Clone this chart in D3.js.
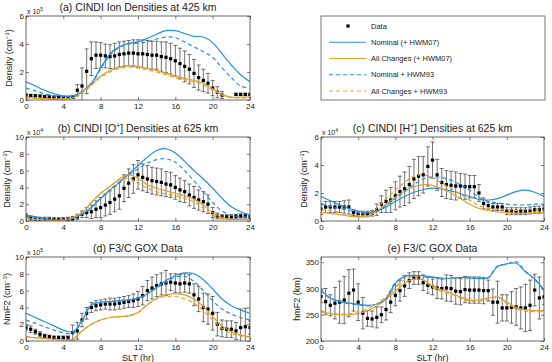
<!DOCTYPE html>
<html>
<head>
<meta charset="utf-8">
<script src="https://cdn.jsdelivr.net/npm/d3@7"></script>
<style>
body { margin: 0; background: #fff; }
svg text { font-family: "Liberation Sans", Arial, sans-serif; fill: #222; }
</style>
</head>
<body>
<svg id="fig" width="552" height="362"></svg>
<script>
// observation times (half-hourly SLT) and model times (hourly SLT)
var obsHours = [0,0.5,1,1.5,2,2.5,3,3.5,4,4.5,5,5.5,6,6.5,7,7.5,8,8.5,9,9.5,10,10.5,11,11.5,12,
                12.5,13,13.5,14,14.5,15,15.5,16,16.5,17,17.5,18,18.5,19,19.5,20,20.5,21,21.5,22,22.5,23,23.5,24]
var modelHours = [0,1,2,3,4,5,6,7,8,9,10,11,12,13,14,15,16,17,18,19,20,21,22,23,24]
var hourTicks = [0,4,8,12,16,20,24]

var seriesNames = ['Data', 'Nominal (+ HWM07)', 'All Changes (+ HWM07)', 'Nominal + HWM93', 'All Changes + HWM93']

// (a) CINDI ion density at 425 km, x 1e5 cm^-3
var aObs = [0.35,0.32,0.3,0.28,0.25,0.22,0.2,0.2,0.18,0.18,0.2,0.7,1.0,2.05,2.95,3.2,3.2,3.15,3.1,3.15,3.25,3.3,3.35,3.35,3.3,
            3.3,3.25,3.2,3.2,3.1,3.05,2.95,2.8,2.6,2.4,2.2,1.9,1.6,1.4,1.2,0.85,0.55,0.35,null,null,0.4,0.4,0.4,0.4]
var aErr = [0.08,0.08,0.08,0.08,0.08,0.08,0.08,0.08,0.08,0.08,0.1,0.4,1.3,1.6,1.2,0.95,0.9,0.85,0.85,0.9,0.9,0.9,0.9,0.95,1.0,
            1.0,1.0,1.0,1.0,1.05,1.1,1.1,1.1,1.1,1.1,1.05,1.0,0.9,0.8,0.7,0.55,0.4,0.25,null,null,0.08,0.08,0.08,0.08]
var aNom07 = [1.3,1.0,0.7,0.45,0.3,0.3,0.6,1.2,2.3,3.3,3.8,4.05,4.15,4.4,4.7,4.95,4.95,4.75,4.55,4.5,4.1,3.3,2.5,1.8,1.3]
var aAll07 = [0.2,0.15,0.1,0.08,0.1,0.15,0.55,1.1,1.7,2.1,2.35,2.45,2.4,2.25,2.1,1.9,1.7,1.55,1.4,1.2,0.8,0.4,0.2,0.2,0.2]
var aNom93 = [0.85,0.65,0.45,0.3,0.25,0.25,0.5,1.1,2.2,3.2,3.75,4.0,4.05,4.15,4.35,4.5,4.45,4.15,3.8,3.45,3.05,2.3,1.6,1.0,0.85]
var aAll93 = [0.15,0.12,0.08,0.06,0.08,0.12,0.5,1.05,1.65,2.0,2.25,2.35,2.3,2.15,2.0,1.8,1.6,1.45,1.3,1.1,0.7,0.35,0.18,0.15,0.15]

// (b) CINDI O+ density at 625 km, x 1e4 cm^-3
var bObs = [0.6,0.35,0.25,0.2,0.2,0.2,0.15,0.15,0.15,0.2,0.3,0.5,0.8,1.0,1.1,1.4,1.6,1.9,2.2,2.6,3.0,3.9,4.5,5.0,5.5,
            5.2,5.0,4.8,4.7,4.6,4.4,4.3,4.0,3.7,3.5,3.1,2.8,2.5,2.3,2.0,1.0,0.6,0.5,0.5,0.5,0.55,0.6,0.6,0.5]
var bErr = [0.25,0.25,0.25,0.25,0.25,0.25,0.25,0.25,0.25,0.25,0.25,0.3,0.4,0.6,0.8,1.0,1.2,1.3,1.4,1.5,1.6,1.6,1.7,1.7,1.7,
            1.6,1.6,1.6,1.6,1.6,1.5,1.5,1.4,1.4,1.3,1.3,1.3,1.2,1.2,1.1,0.6,0.35,0.25,0.25,0.25,0.25,0.25,0.25,0.25]
var bNom07 = [0.7,0.5,0.3,0.15,0.1,0.3,0.8,1.6,2.7,3.7,4.6,5.6,6.6,7.6,8.4,8.6,8.1,7.1,6.0,5.0,3.9,2.7,1.7,1.1,0.7]
var bAll07 = [0.3,0.2,0.1,0.05,0.1,0.4,1.0,2.2,3.3,4.1,5.0,5.5,5.1,4.3,3.9,3.6,3.3,3.0,2.6,1.9,1.0,0.4,0.2,0.2,0.2]
var bNom93 = [0.5,0.4,0.25,0.12,0.1,0.3,0.8,1.6,2.7,3.7,4.6,5.5,6.2,6.9,7.3,7.4,7.0,6.0,4.8,3.5,2.2,1.2,0.7,0.5,0.5]
var bAll93 = [0.25,0.18,0.1,0.05,0.1,0.4,1.0,2.2,3.3,4.1,4.9,5.1,4.5,3.9,3.5,3.2,3.0,2.7,2.3,1.5,0.7,0.3,0.2,0.2,0.2]

// (c) CINDI H+ density at 625 km, x 1e4 cm^-3
var cObs = [0.85,1.0,1.0,1.0,1.0,1.0,1.0,0.6,0.5,0.5,0.5,0.55,0.8,1.2,1.4,1.5,1.8,2.1,2.3,2.6,3.0,3.2,3.3,3.9,4.35,
            3.3,2.75,2.6,2.55,2.5,2.5,2.45,2.45,2.45,2.0,1.25,1.1,1.0,1.0,1.0,0.7,0.7,0.7,0.7,0.7,0.75,0.8,0.8,0.85]
var cErr = [0.4,0.4,0.4,0.4,0.4,0.45,0.5,0.2,0.2,0.2,0.2,0.2,0.4,0.6,0.8,0.9,1.0,1.1,1.2,1.3,1.4,1.4,1.3,1.4,1.3,
            1.1,1.0,1.0,1.0,1.0,0.9,0.9,0.8,0.8,0.6,0.4,0.25,0.25,0.25,0.25,0.25,0.25,0.25,0.25,0.25,0.25,0.25,0.25,0.25]
var cNom07 = [1.75,1.45,1.15,0.9,0.7,0.6,0.7,1.0,1.4,1.75,2.05,2.25,2.35,2.3,2.15,1.95,1.75,1.55,1.5,1.6,1.85,2.1,2.2,2.05,1.75]
var cAll07 = [0.6,0.55,0.45,0.35,0.3,0.35,0.7,1.2,1.7,2.15,2.45,2.6,2.55,2.3,2.0,1.6,1.2,0.9,0.75,0.65,0.6,0.55,0.55,0.6,0.6]
var cNom93 = [1.2,1.05,0.9,0.75,0.6,0.55,0.7,1.1,1.6,2.1,2.6,3.0,3.15,3.1,2.9,2.6,2.2,1.7,1.4,1.3,1.2,1.15,1.15,1.2,1.2]
var cAll93 = [0.8,0.75,0.6,0.45,0.4,0.45,0.9,1.6,2.2,2.75,3.2,3.3,3.1,2.7,2.3,1.9,1.5,1.1,0.9,0.85,0.8,0.75,0.8,0.8,0.8]

// (d) F3/C GOX NmF2, x 1e5 cm^-3
var dObs = [1.6,1.4,1.1,0.8,0.6,0.5,0.4,0.4,0.4,0.4,1.0,1.2,2.5,3.3,4.0,4.2,4.3,4.4,4.4,4.4,4.5,4.6,4.7,4.8,5.0,
            5.4,6.0,6.3,6.6,6.8,6.9,7.0,6.9,6.8,6.9,6.8,5.5,5.0,4.0,3.8,3.3,2.0,1.5,1.4,1.4,1.2,1.6,1.7,1.6]
var dErr = [0.3,0.4,0.3,0.3,0.2,0.2,0.2,0.2,0.2,0.2,0.9,1.0,0.8,0.7,0.6,0.6,0.6,0.6,0.7,0.7,0.7,0.7,0.7,0.8,0.9,
            1.1,1.2,1.3,1.3,1.3,1.5,1.0,1.1,1.1,1.1,1.1,1.3,1.5,1.7,1.8,2.0,1.4,1.0,1.0,1.0,1.0,2.2,2.2,0.8]
var dNom07 = [3.3,2.8,2.3,1.8,1.3,1.1,2.4,4.3,4.6,4.7,4.8,4.9,5.1,5.6,6.4,7.2,7.8,8.1,8.0,7.3,6.2,5.0,4.2,3.7,3.3]
var dAll07 = [0.5,0.4,0.3,0.2,0.15,0.2,1.2,2.0,2.5,2.8,2.9,3.0,3.4,4.3,5.1,5.5,5.65,5.5,5.0,4.1,2.9,1.8,1.1,0.7,0.5]
var dNom93 = [2.5,2.1,1.7,1.3,1.0,0.9,2.4,4.3,4.6,4.7,4.8,4.9,5.1,5.6,6.3,7.0,7.6,7.7,7.1,6.0,4.8,3.8,3.2,2.8,2.5]
var dAll93 = [0.5,0.4,0.3,0.2,0.15,0.2,1.2,2.0,2.5,2.8,2.9,3.0,3.4,4.3,5.0,5.3,5.3,5.0,4.5,3.6,2.5,1.5,0.9,0.6,0.5]

// (e) F3/C GOX hmF2, km
var eObs = [285,275,268,272,274,278,291,297,274,253,243,242,245,250,260,274,287,296,305,315,320,320,311,306,303,
            301,300,301,300,295,294,298,297,297,297,296,296,274,274,263,263,264,265,263,263,268,297,282,284]
var eErr = [12,25,20,30,40,45,45,40,35,30,15,15,20,15,20,20,20,20,20,15,12,12,15,15,15,
            20,20,25,25,25,25,25,25,25,25,25,20,25,40,25,25,30,35,40,45,48,30,40,15]
var eNom07 = [297,282,276,272,270,268,270,280,310,323,325,324,322,318,320,321,320,319,320,342,347,348,332,318,297]
var eAll07 = [258,252,250,250,252,258,266,280,295,310,318,316,305,297,292,284,278,278,282,284,274,264,259,258,258]
var eNom93 = [296,281,275,271,269,267,270,281,311,322,324,323,321,319,320,321,321,320,321,343,346,351,333,317,296]
var eAll93 = [256,252,251,252,256,262,271,285,302,316,323,316,303,294,289,282,276,276,280,283,272,262,257,256,256]

var blue = '#2a8fd8', orange = '#dfa02e'
var svg = d3.select('#fig')

function drawPanel(p) {
    var x = d3.scaleLinear().domain([0, 24]).range([p.left, p.right])
    var y = d3.scaleLinear().domain(p.domain).range([p.bottom, p.top])
    var g = svg.append('g')
    var clipId = 'clip' + p.key
    g.append('clipPath').attr('id', clipId)
        .append('rect')
        .attr('x', p.left).attr('y', p.top)
        .attr('width', p.right - p.left).attr('height', p.bottom - p.top)

    // axes (MATLAB style: ticks inside, on all four sides)
    var axisStyle = function(sel) {
        sel.select('.domain').remove()
        sel.selectAll('line').attr('stroke', '#444').attr('stroke-width', 0.7)
        sel.selectAll('text').attr('font-size', 8).attr('fill', '#333')
    }
    var fmt = d3.format('d')
    g.append('g').attr('transform', 'translate(0,' + p.bottom + ')')
        .call(d3.axisBottom(x).tickValues(hourTicks).tickFormat(fmt).tickSize(-3).tickPadding(3)).call(axisStyle)
    g.append('g').attr('transform', 'translate(0,' + p.top + ')')
        .call(d3.axisTop(x).tickValues(hourTicks).tickSize(-3).tickFormat('')).call(axisStyle)
    g.append('g').attr('transform', 'translate(' + p.left + ',0)')
        .call(d3.axisLeft(y).tickValues(p.ticks).tickFormat(fmt).tickSize(-3).tickPadding(2)).call(axisStyle)
    g.append('g').attr('transform', 'translate(' + p.right + ',0)')
        .call(d3.axisRight(y).tickValues(p.ticks).tickSize(-3).tickFormat('')).call(axisStyle)

    var plot = g.append('g').attr('clip-path', 'url(#' + clipId + ')')

    // observations with error bars
    var obs = obsHours.map(function(t, i) { return { t: t, v: p.obs[i], e: p.err[i] } })
        .filter(function(d) { return d.v != null })
    var bars = plot.selectAll('g.bar').data(obs).enter().append('g').attr('class', 'bar')
        .attr('stroke', '#333').attr('stroke-width', 0.7)
    bars.append('line')
        .attr('x1', function(d) { return x(d.t) }).attr('x2', function(d) { return x(d.t) })
        .attr('y1', function(d) { return y(d.v - d.e) }).attr('y2', function(d) { return y(d.v + d.e) })
    bars.append('line')
        .attr('x1', function(d) { return x(d.t) - 2 }).attr('x2', function(d) { return x(d.t) + 2 })
        .attr('y1', function(d) { return y(d.v - d.e) }).attr('y2', function(d) { return y(d.v - d.e) })
    bars.append('line')
        .attr('x1', function(d) { return x(d.t) - 2 }).attr('x2', function(d) { return x(d.t) + 2 })
        .attr('y1', function(d) { return y(d.v + d.e) }).attr('y2', function(d) { return y(d.v + d.e) })
    plot.selectAll('rect.obs').data(obs).enter().append('rect').attr('class', 'obs')
        .attr('x', function(d) { return x(d.t) - 1.6 }).attr('y', function(d) { return y(d.v) - 1.6 })
        .attr('width', 3.2).attr('height', 3.2).attr('fill', '#000')

    // model curves
    var line = d3.line()
        .x(function(d) { return x(d[0]) }).y(function(d) { return y(d[1]) })
        .curve(d3.curveCatmullRom.alpha(0.5))
    var models = [
        { v: p.nom07, c: blue, dash: null },
        { v: p.all07, c: orange, dash: null },
        { v: p.nom93, c: blue, dash: '4,3' },
        { v: p.all93, c: orange, dash: '4,3' }
    ]
    models.forEach(function(m) {
        plot.append('path')
            .datum(modelHours.map(function(t, i) { return [t, m.v[i]] }))
            .attr('d', line).attr('fill', 'none')
            .attr('stroke', m.c).attr('stroke-width', 1.2)
            .attr('stroke-dasharray', m.dash)
    })

    // frame
    g.append('rect').attr('x', p.left).attr('y', p.top)
        .attr('width', p.right - p.left).attr('height', p.bottom - p.top)
        .attr('fill', 'none').attr('stroke', '#444').attr('stroke-width', 0.8)

    // title
    var title = g.append('text').attr('x', (p.left + p.right) / 2).attr('y', p.top - 5)
        .attr('text-anchor', 'middle').attr('font-size', 10.5)
    title.text(p.title[0])
    if (p.title.length > 1) {
        title.append('tspan').attr('font-size', 7).attr('dy', -4).text(p.title[1])
        title.append('tspan').attr('dy', 4).text(p.title[2])
    }

    // exponent label
    if (p.exp) {
        var ex = g.append('text').attr('x', p.left + 1).attr('y', p.top - 2).attr('font-size', 7).attr('fill', '#333')
        ex.text('x 10')
        ex.append('tspan').attr('font-size', 5).attr('dy', -3).text(p.exp)
    }

    // y label
    var yl = g.append('text')
        .attr('transform', 'translate(' + (p.left - p.ylabelGap) + ',' + ((p.top + p.bottom) / 2) + ') rotate(-90)')
        .attr('text-anchor', 'middle').attr('font-size', 9)
    yl.text(p.ylabel[0])
    if (p.ylabel.length > 1) {
        yl.append('tspan').attr('font-size', 6).attr('dy', -3).text(p.ylabel[1])
        yl.append('tspan').attr('dy', 3).text(p.ylabel[2])
    }

    if (p.xlabel) {
        g.append('text').attr('x', (p.left + p.right) / 2).attr('y', p.bottom + 20)
            .attr('text-anchor', 'middle').attr('font-size', 9).text(p.xlabel)
    }
}

var densLabel = ['Density (cm', '\u22123', ')']
drawPanel({ key: 'a', left: 26, right: 250, top: 16, bottom: 100, domain: [0, 6], ticks: [0, 2, 4, 6],
    obs: aObs, err: aErr, nom07: aNom07, all07: aAll07, nom93: aNom93, all93: aAll93,
    title: ['(a) CINDI Ion Densities at 425 km'], exp: '5', ylabel: densLabel, ylabelGap: 14 })
drawPanel({ key: 'b', left: 26, right: 250, top: 137, bottom: 221, domain: [0, 10], ticks: [0, 2, 4, 6, 8, 10],
    obs: bObs, err: bErr, nom07: bNom07, all07: bAll07, nom93: bNom93, all93: bAll93,
    title: ['(b) CINDI [O', '+', '] Densities at 625 km'], exp: '4', ylabel: densLabel, ylabelGap: 16 })
drawPanel({ key: 'c', left: 321, right: 544, top: 137, bottom: 221, domain: [0, 6], ticks: [0, 2, 4, 6],
    obs: cObs, err: cErr, nom07: cNom07, all07: cAll07, nom93: cNom93, all93: cAll93,
    title: ['(c) CINDI [H', '+', '] Densities at 625 km'], exp: '4', ylabel: densLabel, ylabelGap: 14 })
drawPanel({ key: 'd', left: 26, right: 250, top: 257, bottom: 341, domain: [0, 10], ticks: [0, 2, 4, 6, 8, 10],
    obs: dObs, err: dErr, nom07: dNom07, all07: dAll07, nom93: dNom93, all93: dAll93,
    title: ['(d) F3/C GOX Data'], exp: '5', ylabel: ['NmF2 (cm', '\u22123', ')'], ylabelGap: 16, xlabel: 'SLT (hr)' })
drawPanel({ key: 'e', left: 321, right: 544, top: 257, bottom: 341, domain: [200, 360], ticks: [200, 250, 300, 350],
    obs: eObs, err: eErr, nom07: eNom07, all07: eAll07, nom93: eNom93, all93: eAll93,
    title: ['(e) F3/C GOX Data'], ylabel: ['hmF2 (km)'], ylabelGap: 21, xlabel: 'SLT (hr)' })

// legend
var leg = svg.append('g')
leg.append('rect').attr('x', 321).attr('y', 16).attr('width', 224).attr('height', 84)
    .attr('fill', '#fff').attr('stroke', '#555').attr('stroke-width', 0.8)
var legStyles = [
    { c: '#000', dash: null, marker: true },
    { c: blue, dash: null },
    { c: orange, dash: null },
    { c: blue, dash: '4,3' },
    { c: orange, dash: '4,3' }
]
var legY = d3.scalePoint().domain(seriesNames).range([26, 91])
seriesNames.forEach(function(name, i) {
    var s = legStyles[i], yy = legY(name)
    if (s.marker) {
        leg.append('rect').attr('x', 346.4).attr('y', yy - 1.6).attr('width', 3.2).attr('height', 3.2).attr('fill', '#000')
    } else {
        leg.append('line').attr('x1', 329).attr('x2', 366).attr('y1', yy).attr('y2', yy)
            .attr('stroke', s.c).attr('stroke-width', 1.2).attr('stroke-dasharray', s.dash)
    }
    leg.append('text').attr('x', 371).attr('y', yy + 2.5).attr('font-size', 7.5).text(name)
})
</script>
</body>
</html>
